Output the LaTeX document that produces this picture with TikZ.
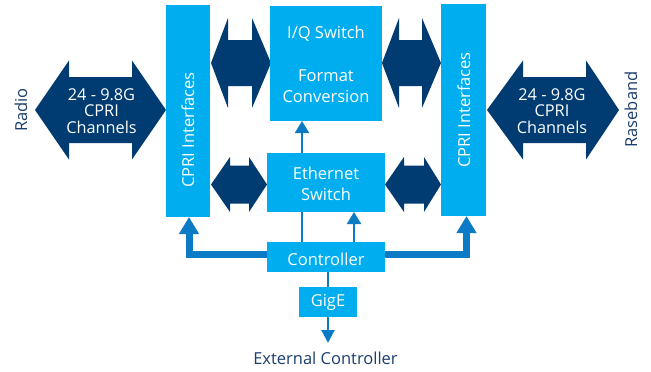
\documentclass[tikz,border=0pt]{standalone}
\usepackage{fontspec}
\setmainfont{Open Sans}
\usetikzlibrary{arrows.meta,calc}
\definecolor{boxc}{HTML}{00AEEF}
\definecolor{darkc}{HTML}{003C71}
\definecolor{linec}{HTML}{0A7BC4}
\definecolor{labc}{HTML}{1A3E6E}
% name, xL, xHL, xHR, xR, yc, head half height, shaft half height
\newcommand\DArrow[8]{%
  \fill[darkc] (#2,#6) -- (#3,#6-#7) -- (#3,#6-#8) -- (#4,#6-#8) -- (#4,#6-#7) -- (#5,#6)
    -- (#4,#6+#7) -- (#4,#6+#8) -- (#3,#6+#8) -- (#3,#6+#7) -- cycle;
  \coordinate (#1) at ({(#2+#5)/2},#6);}
\begin{document}
\begin{tikzpicture}[x=1pt,y=-1pt,
  box/.style={fill=boxc,draw=none,inner sep=0pt,outer sep=0pt},
  boxtxt/.style={text=white,font=\fontsize{16.5}{21}\selectfont,inner sep=0pt,anchor=base},
  arrtxt/.style={text=white,font=\fontsize{16.3}{16.5}\selectfont,align=center,inner sep=0pt},
  lab/.style={text=labc,font=\fontsize{16.5}{21}\selectfont,inner sep=0pt},
  thinln/.style={draw=linec,line width=2pt},
  thinarr/.style={thinln,-{Triangle[width=14pt,length=12pt]}},
  thickarr/.style={draw=linec,line width=7pt,-{Triangle[width=19pt,length=17pt]}}]
\useasboundingbox (0,0) rectangle (651,372);
\fill[white] (0,0) rectangle (651,372);

% double arrows
\DArrow{bigL}{35}{69}{132}{166}{110}{49.5}{33}
\DArrow{bigR}{487}{523}{586}{619}{110}{49.5}{33}
\DArrow{upL}{211}{228}{252}{271}{63}{45}{23}
\DArrow{upR}{382}{399}{422}{441}{63}{45}{23}
\DArrow{loL}{211}{230}{249}{267}{184.5}{27.5}{19}
\DArrow{loR}{385}{404}{424}{441}{184.5}{27.5}{19}

\node[arrtxt] (bigLt) at (101.5,111) {24 - 9.8G\\CPRI\\Channels};
\node[arrtxt] (bigRt) at (552,111) {24 - 9.8G\\CPRI\\Channels};

% boxes
\node[box,minimum width=44pt,minimum height=212pt] (cpriL) at (188,111) {};
\node[box,minimum width=45pt,minimum height=212pt] (cpriR) at (463.5,110) {};
\node[box,minimum width=112pt,minimum height=115pt] (iq) at (326,63.5) {};
\node[box,minimum width=118pt,minimum height=59pt] (eth) at (326,182.5) {};
\node[box,minimum width=118pt,minimum height=30pt] (ctrl) at (326,257) {};
\node[box,minimum width=58pt,minimum height=30pt] (gige) at (328,302) {};

\node[text=white,font=\fontsize{16.5}{21}\selectfont,rotate=90,inner sep=0pt] (cpriLt) at (188,130) {CPRI Interfaces};
\node[text=white,font=\fontsize{16.5}{21}\selectfont,rotate=90,inner sep=0pt] (cpriRt) at (464,110) {CPRI Interfaces};

\node[boxtxt] (iq1) at (326,38.5) {I/Q Switch};
\node[boxtxt] (iq2) at (326,81.7) {Format};
\node[boxtxt] (iq3) at (326,102.7) {Conversion};
\node[boxtxt] (eth1) at (326,179) {Ethernet};
\node[boxtxt] (eth2) at (326,200.7) {Switch};
\node[boxtxt] (ctrlt) at (326,265) {Controller};
\node[boxtxt] (gget) at (328,306.7) {GigE};

% labels
\node[lab,rotate=90] (radio) at (21,110) {Radio};
\node[lab,rotate=90] (rase) at (631,109.5) {Raseband};
\node[lab,anchor=base] (extc) at (325.5,364) {External Controller};

% connectors
\coordinate (xa) at (302,0);
\coordinate (xb) at (354,0);
\coordinate (xg) at (328,0);
\coordinate (xl) at (189,0);
\coordinate (xr) at (466.5,0);
\coordinate (yt) at (0,254);
\coordinate (ext) at (328,343);

\draw[thinarr] (eth.north -| xa) -- (iq.south -| xa);
\draw[thinln] (ctrl.north -| xa) -- (eth.south -| xa);
\draw[thinarr] (ctrl.north -| xb) -- (eth.south -| xb);
\draw[thinln] (ctrl.south -| xg) -- (gige.north -| xg);
\draw[thinln,-{Triangle[width=13pt,length=13pt]}] (gige.south -| xg) -- (ext);
\draw[thickarr] (ctrl.west |- yt) -| (cpriL.south -| xl);
\draw[thickarr] (ctrl.east |- yt) -| (cpriR.south -| xr);
\end{tikzpicture}
\end{document}
